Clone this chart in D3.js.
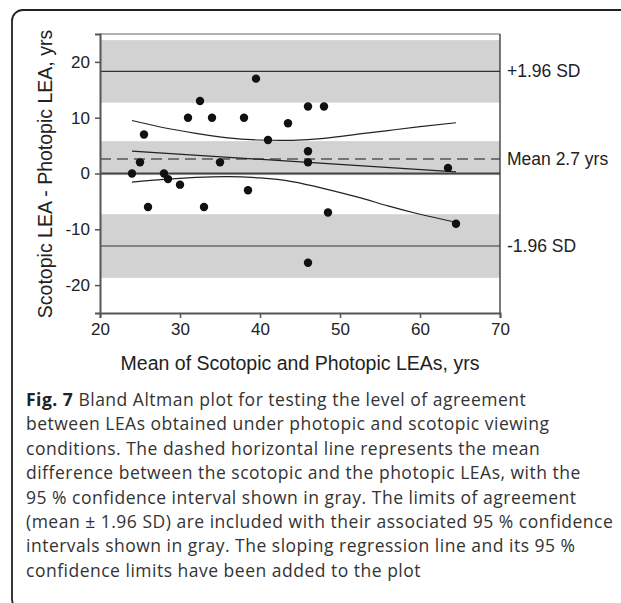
<!DOCTYPE html>
<html>
<head>
<meta charset="utf-8">
<script src="https://cdn.jsdelivr.net/npm/d3@7"></script>
<style>
  body { margin: 0; background: #fff; }
  svg { display: block; }
  .caption { font-family: "Open Sans", "Noto Sans", sans-serif; font-size: 17.5px; letter-spacing: 0.5px; fill: #333; }
</style>
</head>
<body>
<svg id="chart" width="621" height="603"></svg>
<script>
// points
const meanX = [24, 25, 25.5, 26, 28, 28.5, 30, 31, 32.5, 33, 34, 35, 38, 38.5, 39.5, 41, 43.5, 46, 46, 46, 46, 48, 48.5, 63.5, 64.5];
const diffY = [0, 2, 7, -6, 0, -1, -2, 10, 13, -6, 10, 2, 10, -3, 17, 6, 9, 12, 4, 2, -16, 12, -7, 1, -9];

// horizontal reference lines: mean, limits of agreement, zero
const refNames = ['+1.96 SD', 'Mean 2.7 yrs', '-1.96 SD'];
const refValues = [18.3, 2.6, -13.0];
const zeroValue = 0;

// 95% CI bands (gray) for upper LOA, mean, lower LOA
const bandLow = [12.7, -0.3, -18.7];
const bandHigh = [23.9, 5.8, -7.3];

// regression line and its confidence limits
const regX = [24, 64.5];
const regY = [4.0, 0.3];
const ciX = [24, 28, 32, 36, 40, 44, 48, 52, 56, 60, 64.5];
const ciUpper = [9.5, 8.2, 7.2, 6.4, 6.0, 5.95, 6.3, 7.0, 7.7, 8.4, 9.1];
const ciLower = [-1.55, -1.05, -0.7, -0.55, -0.8, -1.45, -2.7, -4.15, -5.8, -7.3, -8.75];

const xTicks = [20, 30, 40, 50, 60, 70];
const yTicks = [-20, -10, 0, 10, 20];

const captionLines = [
  ['Fig. 7', ' Bland Altman plot for testing the level of agreement'],
  ['', 'between LEAs obtained under photopic and scotopic viewing'],
  ['', 'conditions. The dashed horizontal line represents the mean'],
  ['', 'difference between the scotopic and the photopic LEAs, with the'],
  ['', '95 % confidence interval shown in gray. The limits of agreement'],
  ['', '(mean \u00b1 1.96 SD) are included with their associated 95 % confidence'],
  ['', 'intervals shown in gray. The sloping regression line and its 95 %'],
  ['', 'confidence limits have been added to the plot']
];

const arial = '"Liberation Sans", Arial, sans-serif';
const svg = d3.select('#chart');

// outer rounded frame
svg.append('rect').attr('x', 12).attr('y', 10).attr('width', 660).attr('height', 600).attr('rx', 11)
  .attr('fill', 'none').attr('stroke', '#222').attr('stroke-width', 1.8);

var margin = {top: 34, left: 100};
let width = 400, height = 279;

let g = svg.append('g').attr('transform', `translate(${margin.left},${margin.top})`);

var x = d3.scaleLinear().domain([20, 70]).range([0, width]);
var y = d3.scaleLinear().domain([-25, 25]).range([height, 0]);

// gray bands
g.append('g').selectAll('rect').data(bandLow).enter().append('rect')
  .attr('x', 0).attr('width', width)
  .attr('y', (d, i) => y(bandHigh[i]))
  .attr('height', (d, i) => y(bandLow[i]) - y(bandHigh[i]))
  .attr('fill', '#d2d2d2');

// zero line
g.append('line').attr('x1', 0).attr('x2', width).attr('y1', y(zeroValue)).attr('y2', y(zeroValue))
  .attr('stroke', '#444').attr('stroke-width', 1.8);

// LOA lines + mean dashed line
g.append('g').selectAll('line').data(refValues).enter().append('line')
  .attr('x1', 0).attr('x2', width)
  .attr('y1', d => y(d)).attr('y2', d => y(d))
  .attr('stroke', (d, i) => i == 1 ? '#555' : '#333')
  .attr('stroke-width', (d, i) => i == 1 ? 1.4 : 1.1)
  .attr('stroke-dasharray', (d, i) => i == 1 ? '11,6' : null);

// side labels
g.append('g').selectAll('text').data(refNames).enter().append('text')
  .attr('x', width + 7).attr('y', (d, i) => y(refValues[i]) + 6)
  .style('font-family', arial).style('font-size', '17.5px').attr('fill', '#222')
  .text(d => d);

// regression + CI curves
const reg = d3.line().x(d => x(d[0])).y(d => y(d[1]));
g.append('path').datum(regX.map((v, i) => [v, regY[i]])).attr('d', reg)
  .attr('fill', 'none').attr('stroke', '#222').attr('stroke-width', 1.2);

const ciLine = d3.line().curve(d3.curveNatural).x(d => x(d[0])).y(d => y(d[1]));
[ciUpper, ciLower].forEach((arr) => {
  g.append('path').datum(ciX.map((v, i) => [v, arr[i]])).attr('d', ciLine)
    .attr('fill', 'none').attr('stroke', '#222').attr('stroke-width', 1.2);
});

// points
g.append('g').selectAll('circle').data(meanX).enter().append('circle')
  .attr('cx', d => x(d)).attr('cy', (d, i) => y(diffY[i])).attr('r', 4.2)
  .attr('fill', '#111');

// top + right border of plot
g.append('line').attr('x1', 0).attr('x2', width).attr('y1', 0).attr('y2', 0).attr('stroke', '#666').attr('stroke-width', 1);
g.append('line').attr('x1', width).attr('x2', width).attr('y1', 0).attr('y2', height).attr('stroke', '#333').attr('stroke-width', 1.3);

// axes
const styleAxis = (s) => {
  s.select('.domain').attr('stroke', '#555').attr('stroke-width', 2);
  s.selectAll('.tick line').attr('stroke', '#555').attr('stroke-width', 1.5);
  s.selectAll('.tick text').style('font-family', arial).style('font-size', '17px').attr('fill', '#222');
};
g.append('g').attr('transform', `translate(0,${height})`)
  .call(d3.axisBottom(x).tickValues(xTicks).tickSize(5).tickPadding(5).tickFormat(d => String(d)))
  .call(styleAxis);
g.append('g')
  .call(d3.axisLeft(y).tickValues(yTicks).tickSize(5).tickPadding(5).tickFormat(d => String(d)))
  .call(styleAxis);

// axis titles
svg.append('text').attr('x', 300).attr('y', 370).attr('text-anchor', 'middle')
  .style('font-family', arial).style('font-size', '19.5px').attr('fill', '#222')
  .text('Mean of Scotopic and Photopic LEAs, yrs');
svg.append('text').attr('transform', 'translate(52,174) rotate(-90)').attr('text-anchor', 'middle')
  .style('font-family', arial).style('font-size', '19.5px').attr('fill', '#222')
  .text('Scotopic LEA - Photopic LEA, yrs');

// caption
let cap = svg.append('g').attr('class', 'caption');
captionLines.forEach((ln, i) => {
  let t = cap.append('text').attr('x', 26).attr('y', 406 + i * 24.4);
  if (ln[0]) t.append('tspan').attr('font-weight', 'bold').attr('fill', '#222').text(ln[0]);
  t.append('tspan').text(ln[1]);
});
</script>
</body>
</html>
